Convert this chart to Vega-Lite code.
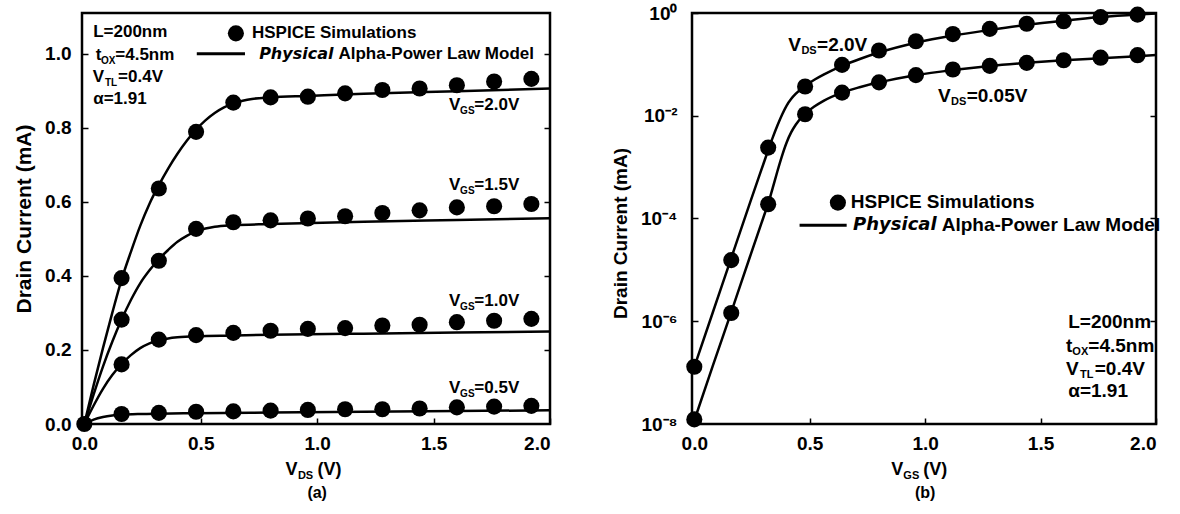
{
  "$schema": "https://vega.github.io/schema/vega-lite/v6.json",
  "background": "white",
  "padding": {"left": 12, "top": 2, "right": 4, "bottom": 2},
  "bounds": "flush",
  "spacing": 142,
  "config": {
    "view": {"stroke": "black", "strokeWidth": 2.5},
    "font": "Liberation Sans",
    "axis": {"domain": false, "grid": false, "labelFont": "Liberation Sans", "labelFontWeight": "bold", "labelFontSize": 19, "labelColor": "black", "tickColor": "black", "tickSize": -6, "tickWidth": 1.5, "titleFont": "Liberation Sans", "titleFontWeight": "bold", "titleFontSize": 20, "titleColor": "black"},
    "text": {"font": "Liberation Sans", "fontWeight": "bold", "color": "black"}
  },
  "datasets": {
    "dotsA": [
      {"g": "0.0", "x": 0, "y": 0},
      {"g": "2.0", "x": 0.16, "y": 0.394}, {"g": "2.0", "x": 0.32, "y": 0.636}, {"g": "2.0", "x": 0.48, "y": 0.789}, {"g": "2.0", "x": 0.64, "y": 0.868}, {"g": "2.0", "x": 0.80, "y": 0.882}, {"g": "2.0", "x": 0.96, "y": 0.884}, {"g": "2.0", "x": 1.12, "y": 0.893}, {"g": "2.0", "x": 1.28, "y": 0.902}, {"g": "2.0", "x": 1.44, "y": 0.906}, {"g": "2.0", "x": 1.60, "y": 0.915}, {"g": "2.0", "x": 1.76, "y": 0.925}, {"g": "2.0", "x": 1.92, "y": 0.932},
      {"g": "1.5", "x": 0.16, "y": 0.282}, {"g": "1.5", "x": 0.32, "y": 0.441}, {"g": "1.5", "x": 0.48, "y": 0.527}, {"g": "1.5", "x": 0.64, "y": 0.545}, {"g": "1.5", "x": 0.80, "y": 0.550}, {"g": "1.5", "x": 0.96, "y": 0.555}, {"g": "1.5", "x": 1.12, "y": 0.561}, {"g": "1.5", "x": 1.28, "y": 0.570}, {"g": "1.5", "x": 1.44, "y": 0.577}, {"g": "1.5", "x": 1.60, "y": 0.585}, {"g": "1.5", "x": 1.76, "y": 0.588}, {"g": "1.5", "x": 1.92, "y": 0.594},
      {"g": "1.0", "x": 0.16, "y": 0.161}, {"g": "1.0", "x": 0.32, "y": 0.228}, {"g": "1.0", "x": 0.48, "y": 0.240}, {"g": "1.0", "x": 0.64, "y": 0.246}, {"g": "1.0", "x": 0.80, "y": 0.252}, {"g": "1.0", "x": 0.96, "y": 0.257}, {"g": "1.0", "x": 1.12, "y": 0.259}, {"g": "1.0", "x": 1.28, "y": 0.266}, {"g": "1.0", "x": 1.44, "y": 0.268}, {"g": "1.0", "x": 1.60, "y": 0.275}, {"g": "1.0", "x": 1.76, "y": 0.279}, {"g": "1.0", "x": 1.92, "y": 0.284},
      {"g": "0.5", "x": 0.16, "y": 0.027}, {"g": "0.5", "x": 0.32, "y": 0.030}, {"g": "0.5", "x": 0.48, "y": 0.033}, {"g": "0.5", "x": 0.64, "y": 0.034}, {"g": "0.5", "x": 0.80, "y": 0.036}, {"g": "0.5", "x": 0.96, "y": 0.038}, {"g": "0.5", "x": 1.12, "y": 0.040}, {"g": "0.5", "x": 1.28, "y": 0.040}, {"g": "0.5", "x": 1.44, "y": 0.042}, {"g": "0.5", "x": 1.60, "y": 0.045}, {"g": "0.5", "x": 1.76, "y": 0.047}, {"g": "0.5", "x": 1.92, "y": 0.049}
    ],
    "linesA": [
      {"g": "2.0", "x": 0, "y": 0}, {"g": "2.0", "x": 0.04, "y": 0.105}, {"g": "2.0", "x": 0.08, "y": 0.205}, {"g": "2.0", "x": 0.12, "y": 0.300}, {"g": "2.0", "x": 0.16, "y": 0.390}, {"g": "2.0", "x": 0.20, "y": 0.465}, {"g": "2.0", "x": 0.24, "y": 0.535}, {"g": "2.0", "x": 0.28, "y": 0.595}, {"g": "2.0", "x": 0.32, "y": 0.645}, {"g": "2.0", "x": 0.36, "y": 0.690}, {"g": "2.0", "x": 0.40, "y": 0.730}, {"g": "2.0", "x": 0.44, "y": 0.765}, {"g": "2.0", "x": 0.48, "y": 0.795}, {"g": "2.0", "x": 0.52, "y": 0.820}, {"g": "2.0", "x": 0.56, "y": 0.840}, {"g": "2.0", "x": 0.60, "y": 0.855}, {"g": "2.0", "x": 0.64, "y": 0.866}, {"g": "2.0", "x": 0.68, "y": 0.873}, {"g": "2.0", "x": 0.72, "y": 0.878}, {"g": "2.0", "x": 0.80, "y": 0.882}, {"g": "2.0", "x": 0.96, "y": 0.886}, {"g": "2.0", "x": 1.20, "y": 0.892}, {"g": "2.0", "x": 1.60, "y": 0.899}, {"g": "2.0", "x": 2.00, "y": 0.906},
      {"g": "1.5", "x": 0, "y": 0}, {"g": "1.5", "x": 0.04, "y": 0.080}, {"g": "1.5", "x": 0.08, "y": 0.155}, {"g": "1.5", "x": 0.12, "y": 0.222}, {"g": "1.5", "x": 0.16, "y": 0.282}, {"g": "1.5", "x": 0.20, "y": 0.335}, {"g": "1.5", "x": 0.24, "y": 0.380}, {"g": "1.5", "x": 0.28, "y": 0.415}, {"g": "1.5", "x": 0.32, "y": 0.445}, {"g": "1.5", "x": 0.36, "y": 0.470}, {"g": "1.5", "x": 0.40, "y": 0.492}, {"g": "1.5", "x": 0.44, "y": 0.508}, {"g": "1.5", "x": 0.48, "y": 0.520}, {"g": "1.5", "x": 0.52, "y": 0.528}, {"g": "1.5", "x": 0.56, "y": 0.533}, {"g": "1.5", "x": 0.64, "y": 0.537}, {"g": "1.5", "x": 0.80, "y": 0.540}, {"g": "1.5", "x": 1.20, "y": 0.546}, {"g": "1.5", "x": 1.60, "y": 0.551}, {"g": "1.5", "x": 2.00, "y": 0.556},
      {"g": "1.0", "x": 0, "y": 0}, {"g": "1.0", "x": 0.04, "y": 0.050}, {"g": "1.0", "x": 0.08, "y": 0.095}, {"g": "1.0", "x": 0.12, "y": 0.132}, {"g": "1.0", "x": 0.16, "y": 0.162}, {"g": "1.0", "x": 0.20, "y": 0.186}, {"g": "1.0", "x": 0.24, "y": 0.205}, {"g": "1.0", "x": 0.28, "y": 0.218}, {"g": "1.0", "x": 0.32, "y": 0.226}, {"g": "1.0", "x": 0.36, "y": 0.231}, {"g": "1.0", "x": 0.40, "y": 0.234}, {"g": "1.0", "x": 0.48, "y": 0.237}, {"g": "1.0", "x": 0.64, "y": 0.239}, {"g": "1.0", "x": 0.80, "y": 0.241}, {"g": "1.0", "x": 1.20, "y": 0.244}, {"g": "1.0", "x": 1.60, "y": 0.247}, {"g": "1.0", "x": 2.00, "y": 0.250},
      {"g": "0.5", "x": 0, "y": 0}, {"g": "0.5", "x": 0.04, "y": 0.012}, {"g": "0.5", "x": 0.08, "y": 0.019}, {"g": "0.5", "x": 0.12, "y": 0.023}, {"g": "0.5", "x": 0.16, "y": 0.025}, {"g": "0.5", "x": 0.24, "y": 0.027}, {"g": "0.5", "x": 0.32, "y": 0.028}, {"g": "0.5", "x": 0.48, "y": 0.029}, {"g": "0.5", "x": 0.80, "y": 0.031}, {"g": "0.5", "x": 1.20, "y": 0.033}, {"g": "0.5", "x": 1.60, "y": 0.035}, {"g": "0.5", "x": 2.00, "y": 0.037}
    ],
    "annA": [
      {"x": 0.008, "y": 1.059, "main": "", "sub": "", "rest": "L=200nm"},
      {"x": 0.103, "y": 0.997, "main": "t", "sub": "OX", "rest": "=4.5nm"},
      {"x": 0.115, "y": 0.936, "main": "V", "sub": "TL", "rest": "=0.4V"},
      {"x": 0.008, "y": 0.879, "main": "", "sub": "", "rest": "α=1.91"},
      {"x": 1.645, "y": 0.862, "main": "V", "sub": "GS", "rest": "=2.0V"},
      {"x": 1.645, "y": 0.645, "main": "V", "sub": "GS", "rest": "=1.5V"},
      {"x": 1.645, "y": 0.331, "main": "V", "sub": "GS", "rest": "=1.0V"},
      {"x": 1.645, "y": 0.098, "main": "V", "sub": "GS", "rest": "=0.5V"}
    ],
    "dotsB": [
      {"g": "2.0", "x": 0, "y": 1.30e-7}, {"g": "2.0", "x": 0.16, "y": 1.55e-5}, {"g": "2.0", "x": 0.32, "y": 0.0024}, {"g": "2.0", "x": 0.48, "y": 0.0372}, {"g": "2.0", "x": 0.64, "y": 0.0977}, {"g": "2.0", "x": 0.80, "y": 0.186}, {"g": "2.0", "x": 0.96, "y": 0.282}, {"g": "2.0", "x": 1.12, "y": 0.389}, {"g": "2.0", "x": 1.28, "y": 0.490}, {"g": "2.0", "x": 1.44, "y": 0.617}, {"g": "2.0", "x": 1.60, "y": 0.692}, {"g": "2.0", "x": 1.76, "y": 0.832}, {"g": "2.0", "x": 1.92, "y": 0.930},
      {"g": "0.05", "x": 0, "y": 1.23e-8}, {"g": "0.05", "x": 0.16, "y": 1.45e-6}, {"g": "0.05", "x": 0.32, "y": 1.9e-4}, {"g": "0.05", "x": 0.48, "y": 0.0107}, {"g": "0.05", "x": 0.64, "y": 0.0282}, {"g": "0.05", "x": 0.80, "y": 0.0447}, {"g": "0.05", "x": 0.96, "y": 0.0617}, {"g": "0.05", "x": 1.12, "y": 0.0794}, {"g": "0.05", "x": 1.28, "y": 0.0933}, {"g": "0.05", "x": 1.44, "y": 0.107}, {"g": "0.05", "x": 1.60, "y": 0.120}, {"g": "0.05", "x": 1.76, "y": 0.135}, {"g": "0.05", "x": 1.92, "y": 0.151}
    ],
    "linesB": [
      {"g": "2.0", "x": 0, "y": 1.29e-7}, {"g": "2.0", "x": 0.08, "y": 1.48e-6}, {"g": "2.0", "x": 0.16, "y": 1.70e-5}, {"g": "2.0", "x": 0.24, "y": 1.95e-4}, {"g": "2.0", "x": 0.30, "y": 0.001175}, {"g": "2.0", "x": 0.32, "y": 0.00214}, {"g": "2.0", "x": 0.34, "y": 0.0038}, {"g": "2.0", "x": 0.36, "y": 0.00646}, {"g": "2.0", "x": 0.38, "y": 0.01047}, {"g": "2.0", "x": 0.40, "y": 0.0158}, {"g": "2.0", "x": 0.42, "y": 0.0214}, {"g": "2.0", "x": 0.44, "y": 0.0269}, {"g": "2.0", "x": 0.48, "y": 0.0380}, {"g": "2.0", "x": 0.52, "y": 0.0501}, {"g": "2.0", "x": 0.56, "y": 0.0631}, {"g": "2.0", "x": 0.64, "y": 0.0933}, {"g": "2.0", "x": 0.72, "y": 0.1288}, {"g": "2.0", "x": 0.80, "y": 0.1698}, {"g": "2.0", "x": 0.96, "y": 0.2630}, {"g": "2.0", "x": 1.12, "y": 0.3631}, {"g": "2.0", "x": 1.28, "y": 0.4677}, {"g": "2.0", "x": 1.44, "y": 0.5888}, {"g": "2.0", "x": 1.60, "y": 0.7079}, {"g": "2.0", "x": 1.76, "y": 0.8318}, {"g": "2.0", "x": 1.92, "y": 0.9333}, {"g": "2.0", "x": 2.00, "y": 0.977},
      {"g": "0.05", "x": 0, "y": 1.17e-8}, {"g": "0.05", "x": 0.08, "y": 1.35e-7}, {"g": "0.05", "x": 0.16, "y": 1.51e-6}, {"g": "0.05", "x": 0.24, "y": 1.74e-5}, {"g": "0.05", "x": 0.30, "y": 1.07e-4}, {"g": "0.05", "x": 0.32, "y": 1.95e-4}, {"g": "0.05", "x": 0.34, "y": 3.98e-4}, {"g": "0.05", "x": 0.36, "y": 8.32e-4}, {"g": "0.05", "x": 0.38, "y": 0.00166}, {"g": "0.05", "x": 0.40, "y": 0.00302}, {"g": "0.05", "x": 0.42, "y": 0.00479}, {"g": "0.05", "x": 0.44, "y": 0.00676}, {"g": "0.05", "x": 0.48, "y": 0.01096}, {"g": "0.05", "x": 0.52, "y": 0.0151}, {"g": "0.05", "x": 0.56, "y": 0.0195}, {"g": "0.05", "x": 0.64, "y": 0.0282}, {"g": "0.05", "x": 0.72, "y": 0.0363}, {"g": "0.05", "x": 0.80, "y": 0.0447}, {"g": "0.05", "x": 0.96, "y": 0.0617}, {"g": "0.05", "x": 1.12, "y": 0.0776}, {"g": "0.05", "x": 1.28, "y": 0.0933}, {"g": "0.05", "x": 1.44, "y": 0.1072}, {"g": "0.05", "x": 1.60, "y": 0.1202}, {"g": "0.05", "x": 1.76, "y": 0.1318}, {"g": "0.05", "x": 1.92, "y": 0.1445}, {"g": "0.05", "x": 2.00, "y": 0.1514}
    ],
    "annB": [
      {"x": 0.497, "y": 0.234, "main": "V", "sub": "DS", "rest": "=2.0V"},
      {"x": 1.145, "y": 0.0245, "main": "V", "sub": "DS", "rest": "=0.05V"},
      {"x": 1.585, "y": 9.8e-7, "main": "", "sub": "", "rest": "L=200nm"},
      {"x": 1.672, "y": 3.24e-7, "main": "t", "sub": "OX", "rest": "=4.5nm"},
      {"x": 1.70, "y": 1.17e-7, "main": "V", "sub": "TL", "rest": "=0.4V"},
      {"x": 1.585, "y": 4.37e-8, "main": "", "sub": "", "rest": "α=1.91"}
    ]
  },
  "hconcat": [
    {
      "width": 468,
      "height": 411,
      "resolve": {"axis": {"y": "independent"}},
      "layer": [
        {
          "encoding": {
            "x": {"field": "x", "type": "quantitative", "scale": {"domain": [-0.01, 2], "nice": false, "zero": false}, "axis": {"values": [0, 0.5, 1, 1.5, 2], "format": ".1f", "title": null, "labelPadding": 16}},
            "y": {"field": "y", "type": "quantitative", "scale": {"domain": [0, 1.11], "nice": false}, "axis": {"values": [0, 0.2, 0.4, 0.6, 0.8, 1.0], "format": ".1f", "title": "Drain Current (mA)", "titleFontSize": 21, "labelPadding": 17, "titlePadding": 10}}
          },
          "layer": [
            {"data": {"name": "linesA"}, "mark": {"type": "line", "color": "black", "strokeWidth": 2.5, "interpolate": "monotone"}, "encoding": {"detail": {"field": "g", "type": "nominal"}}},
            {"data": {"name": "dotsA"}, "mark": {"type": "circle", "size": 260, "color": "black", "opacity": 1}},
            {"data": {"name": "annA"}, "mark": {"type": "text", "align": "right", "baseline": "middle", "dx": -7, "fontSize": 17}, "encoding": {"text": {"field": "main"}}},
            {"data": {"name": "annA"}, "mark": {"type": "text", "align": "center", "baseline": "middle", "dy": 6, "fontSize": 10}, "encoding": {"text": {"field": "sub"}}},
            {"data": {"name": "annA"}, "mark": {"type": "text", "align": "left", "baseline": "middle", "dx": 7, "fontSize": 17}, "encoding": {"text": {"field": "rest"}}},
            {"data": {"values": [{"x": 0.651, "y": 1.055}]}, "mark": {"type": "circle", "size": 260, "color": "black", "opacity": 1}},
            {"data": {"values": [{"x": 0.483, "x2": 0.69, "y": 1.0}]}, "mark": {"type": "rule", "color": "black", "strokeWidth": 3}, "encoding": {"x2": {"field": "x2"}}},
            {"data": {"values": [{"x": 0.72, "y": 1.057, "t": "HSPICE Simulations"}]}, "mark": {"type": "text", "align": "left", "baseline": "middle", "fontSize": 17}, "encoding": {"text": {"field": "t"}}},
            {"data": {"values": [{"x": 1.07, "y": 1.0, "t": "Physical"}]}, "mark": {"type": "text", "align": "right", "baseline": "middle", "fontSize": 16, "font": "DejaVu Sans", "fontStyle": "italic"}, "encoding": {"text": {"field": "t"}}},
            {"data": {"values": [{"x": 1.07, "y": 1.0, "t": "Alpha-Power Law Model"}]}, "mark": {"type": "text", "align": "left", "baseline": "middle", "fontSize": 17, "dx": 5}, "encoding": {"text": {"field": "t"}}},
            {"data": {"values": [{"x": 0.95, "y": 0, "main": "V", "sub": "DS", "rest": "(V)"}]}, "mark": {"type": "text", "align": "right", "baseline": "middle", "dx": -8, "dy": 46, "fontSize": 18}, "encoding": {"text": {"field": "main"}}},
            {"data": {"values": [{"x": 0.95, "y": 0, "main": "V", "sub": "DS", "rest": "(V)"}]}, "mark": {"type": "text", "align": "center", "baseline": "middle", "dy": 52, "fontSize": 11}, "encoding": {"text": {"field": "sub"}}},
            {"data": {"values": [{"x": 0.95, "y": 0, "main": "V", "sub": "DS", "rest": "(V)"}]}, "mark": {"type": "text", "align": "left", "baseline": "middle", "dx": 12, "dy": 46, "fontSize": 18}, "encoding": {"text": {"field": "rest"}}},
            {"data": {"values": [{"x": 1.0, "y": 0, "t": "(a)"}]}, "mark": {"type": "text", "align": "center", "baseline": "middle", "dy": 69, "fontSize": 16}, "encoding": {"text": {"field": "t"}}}
          ]
        },
        {
          "data": {"name": "dotsA"},
          "mark": {"type": "point", "opacity": 0},
          "encoding": {
            "x": {"field": "x", "type": "quantitative", "scale": {"domain": [-0.01, 2], "nice": false, "zero": false}, "axis": {"values": [0, 0.5, 1, 1.5, 2], "format": ".1f", "title": null, "labelPadding": 16}},
            "y": {"field": "y", "type": "quantitative", "scale": {"domain": [0, 1.11], "nice": false}, "axis": {"orient": "right", "values": [0.2, 0.4, 0.6, 0.8, 1.0], "labels": false, "title": null}}
          }
        }
      ]
    },
    {
      "width": 464,
      "height": 411,
      "resolve": {"axis": {"y": "independent"}},
      "layer": [
        {
          "encoding": {
            "x": {"field": "x", "type": "quantitative", "scale": {"domain": [-0.01, 2], "nice": false, "zero": false}, "axis": {"values": [0, 0.5, 1, 1.5, 2], "format": ".1f", "title": null, "labelPadding": 16}},
            "y": {"field": "y", "type": "quantitative", "scale": {"type": "log", "domain": [1e-8, 1], "nice": false}, "axis": {"values": [1e-8, 1e-6, 1e-4, 1e-2, 1], "labelExpr": "datum.value > 0.5 ? '10⁰' : datum.value > 0.005 ? '10⁻²' : datum.value > 0.00005 ? '10⁻⁴' : datum.value > 5e-7 ? '10⁻⁶' : '10⁻⁸'", "title": "Drain Current (mA)", "titleFontSize": 19, "titleY": 220, "labelPadding": 21, "titlePadding": 10}}
          },
          "layer": [
            {"data": {"name": "linesB"}, "mark": {"type": "line", "color": "black", "strokeWidth": 2.5, "interpolate": "monotone"}, "encoding": {"detail": {"field": "g", "type": "nominal"}}},
            {"data": {"name": "dotsB"}, "mark": {"type": "circle", "size": 260, "color": "black", "opacity": 1}},
            {"data": {"name": "annB"}, "mark": {"type": "text", "align": "right", "baseline": "middle", "dx": -8, "fontSize": 19}, "encoding": {"text": {"field": "main"}}},
            {"data": {"name": "annB"}, "mark": {"type": "text", "align": "center", "baseline": "middle", "dy": 6, "fontSize": 11}, "encoding": {"text": {"field": "sub"}}},
            {"data": {"name": "annB"}, "mark": {"type": "text", "align": "left", "baseline": "middle", "dx": 8, "fontSize": 19}, "encoding": {"text": {"field": "rest"}}},
            {"data": {"values": [{"x": 0.622, "y": 2.04e-4}]}, "mark": {"type": "circle", "size": 260, "color": "black", "opacity": 1}},
            {"data": {"values": [{"x": 0.456, "x2": 0.66, "y": 7.4e-5}]}, "mark": {"type": "rule", "color": "black", "strokeWidth": 3}, "encoding": {"x2": {"field": "x2"}}},
            {"data": {"values": [{"x": 0.678, "y": 2.1e-4, "t": "HSPICE Simulations"}]}, "mark": {"type": "text", "align": "left", "baseline": "middle", "fontSize": 19}, "encoding": {"text": {"field": "t"}}},
            {"data": {"values": [{"x": 1.05, "y": 7.4e-5, "t": "Physical"}]}, "mark": {"type": "text", "align": "right", "baseline": "middle", "fontSize": 18, "font": "DejaVu Sans", "fontStyle": "italic"}, "encoding": {"text": {"field": "t"}}},
            {"data": {"values": [{"x": 1.05, "y": 7.4e-5, "t": "Alpha-Power Law Model"}]}, "mark": {"type": "text", "align": "left", "baseline": "middle", "fontSize": 19, "dx": 5}, "encoding": {"text": {"field": "t"}}},
            {"data": {"values": [{"x": 0.94, "y": 1e-8, "main": "V", "sub": "GS", "rest": "(V)"}]}, "mark": {"type": "text", "align": "right", "baseline": "middle", "dx": -8, "dy": 46, "fontSize": 18}, "encoding": {"text": {"field": "main"}}},
            {"data": {"values": [{"x": 0.94, "y": 1e-8, "main": "V", "sub": "GS", "rest": "(V)"}]}, "mark": {"type": "text", "align": "center", "baseline": "middle", "dy": 52, "fontSize": 11}, "encoding": {"text": {"field": "sub"}}},
            {"data": {"values": [{"x": 0.94, "y": 1e-8, "main": "V", "sub": "GS", "rest": "(V)"}]}, "mark": {"type": "text", "align": "left", "baseline": "middle", "dx": 12, "dy": 46, "fontSize": 18}, "encoding": {"text": {"field": "rest"}}},
            {"data": {"values": [{"x": 1.0, "y": 1e-8, "t": "(b)"}]}, "mark": {"type": "text", "align": "center", "baseline": "middle", "dy": 69, "fontSize": 16}, "encoding": {"text": {"field": "t"}}}
          ]
        },
        {
          "data": {"name": "dotsB"},
          "mark": {"type": "point", "opacity": 0},
          "encoding": {
            "x": {"field": "x", "type": "quantitative", "scale": {"domain": [-0.01, 2], "nice": false, "zero": false}, "axis": {"values": [0, 0.5, 1, 1.5, 2], "format": ".1f", "title": null, "labelPadding": 16}},
            "y": {"field": "y", "type": "quantitative", "scale": {"type": "log", "domain": [1e-8, 1], "nice": false}, "axis": {"orient": "right", "values": [1e-6, 1e-4, 1e-2], "labels": false, "title": null}}
          }
        }
      ]
    }
  ]
}
